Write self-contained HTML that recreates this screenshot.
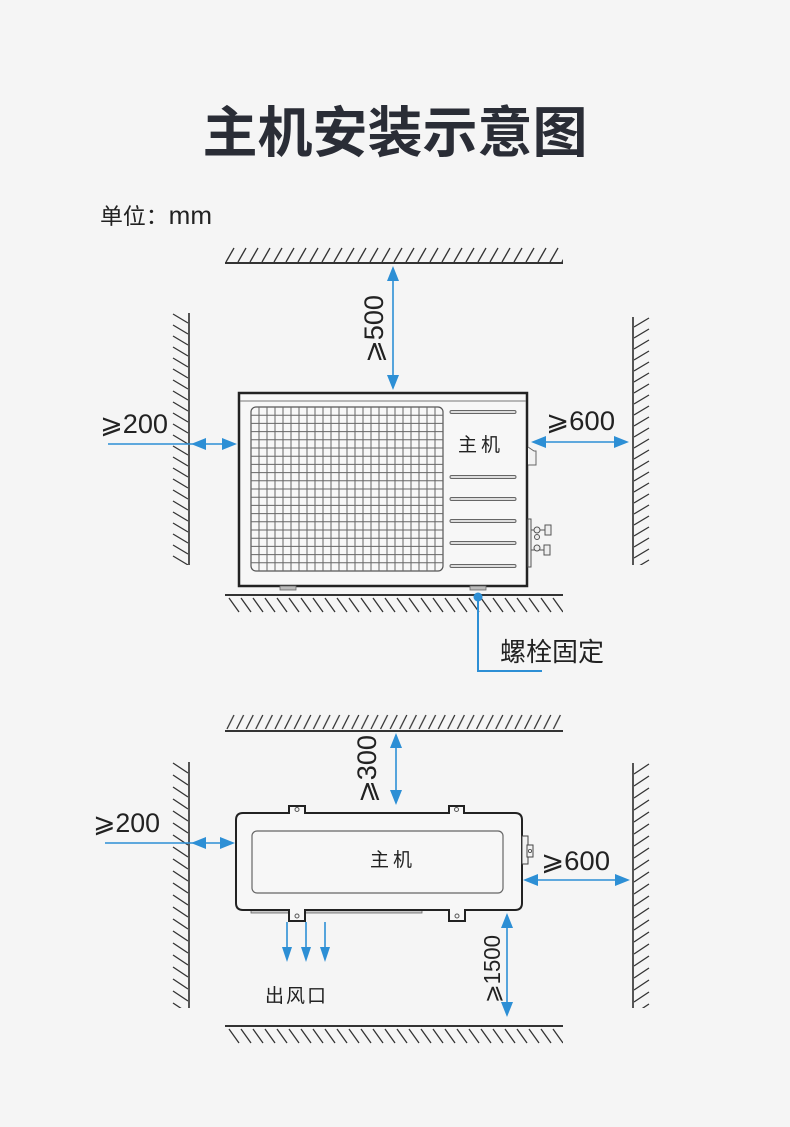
<!DOCTYPE html>
<html><head><meta charset="utf-8">
<style>
html,body{margin:0;padding:0;background:#f5f5f5;}
svg{display:block;}
.t{font-family:"Liberation Sans","DejaVu Sans","Noto Sans CJK SC",sans-serif;fill:#222;}
.c{font-family:"Noto Sans CJK SC","WenQuanYi Zen Hei",sans-serif;fill:#222;}
</style></head>
<body>
<svg width="790" height="1127" viewBox="0 0 790 1127" xmlns="http://www.w3.org/2000/svg">
<defs>
  <pattern id="hTop" patternUnits="userSpaceOnUse" x="225" y="247" width="12" height="16">
    <line x1="1" y1="15" x2="9" y2="1" stroke="#333" stroke-width="1.3"/>
  </pattern>
  <pattern id="hTop2" patternUnits="userSpaceOnUse" x="226" y="714" width="9.6" height="16">
    <line x1="1" y1="15" x2="8" y2="1" stroke="#333" stroke-width="1.3"/>
  </pattern>
  <pattern id="hBot" patternUnits="userSpaceOnUse" x="228" y="597" width="12" height="16">
    <line x1="1" y1="1" x2="11" y2="15" stroke="#333" stroke-width="1.3"/>
  </pattern>
  <pattern id="hBot2" patternUnits="userSpaceOnUse" x="228" y="1028" width="12" height="16">
    <line x1="1" y1="1" x2="11" y2="15" stroke="#333" stroke-width="1.3"/>
  </pattern>
  <pattern id="hLeft" patternUnits="userSpaceOnUse" x="172" y="313" width="17" height="11">
    <line x1="1" y1="1" x2="16" y2="10" stroke="#333" stroke-width="1.3"/>
  </pattern>
  <pattern id="hLeft2" patternUnits="userSpaceOnUse" x="172" y="762" width="17" height="12">
    <line x1="1" y1="1" x2="16" y2="11" stroke="#333" stroke-width="1.3"/>
  </pattern>
  <pattern id="hRight" patternUnits="userSpaceOnUse" x="634" y="317" width="17" height="11">
    <line x1="0" y1="10" x2="15" y2="1" stroke="#333" stroke-width="1.3"/>
  </pattern>
  <pattern id="hRight2" patternUnits="userSpaceOnUse" x="634" y="763" width="17" height="12">
    <line x1="0" y1="11" x2="15" y2="1" stroke="#333" stroke-width="1.3"/>
  </pattern>
</defs>

<!-- Title -->
<text x="395" y="152" text-anchor="middle" class="c" style="font-size:55px;font-weight:bold;fill:#2a2d36;">主机安装示意图</text>
<text x="100" y="224" class="c" style="font-size:22px;" textLength="112" lengthAdjust="spacingAndGlyphs">单位：<tspan style="font-family:'Liberation Sans',sans-serif;font-size:25px;">mm</tspan></text>

<!-- ============ TOP DIAGRAM ============ -->
<rect x="225" y="247" width="338" height="15" fill="url(#hTop)"/>
<line x1="225" y1="263" x2="563" y2="263" stroke="#333" stroke-width="2"/>
<rect x="172" y="313" width="17" height="252" fill="url(#hLeft)"/>
<line x1="189" y1="313" x2="189" y2="565" stroke="#555" stroke-width="2"/>
<rect x="634" y="317" width="17" height="248" fill="url(#hRight)"/>
<line x1="633" y1="317" x2="633" y2="565" stroke="#555" stroke-width="2"/>
<rect x="228" y="597" width="335" height="16" fill="url(#hBot)"/>
<line x1="225" y1="595" x2="563" y2="595" stroke="#333" stroke-width="2"/>

<!-- unit -->
<rect x="239" y="393" width="288" height="193" fill="#f7f7f7" stroke="#222" stroke-width="2.5"/>
<line x1="240" y1="401" x2="526" y2="401" stroke="#777" stroke-width="1"/>
<rect x="251" y="407" width="192" height="164" rx="5" fill="none" stroke="#555" stroke-width="1.2"/>
<path d="M259 407V571M267 407V571M275 407V571M283 407V571M291 407V571M299 407V571M307 407V571M315 407V571M323 407V571M331 407V571M339 407V571M347 407V571M355 407V571M363 407V571M371 407V571M379 407V571M387 407V571M395 407V571M403 407V571M411 407V571M419 407V571M427 407V571M435 407V571
M251 415.2H443M251 423.4H443M251 431.6H443M251 439.8H443M251 448H443M251 456.2H443M251 464.4H443M251 472.6H443M251 480.8H443M251 489H443M251 497.2H443M251 505.4H443M251 513.6H443M251 521.8H443M251 530H443M251 538.2H443M251 546.4H443M251 554.6H443M251 562.8H443" stroke="#666" stroke-width="1" fill="none"/>
<g fill="#ddd" stroke="#666" stroke-width="1">
<rect x="450" y="410.5" width="66" height="3" rx="1.5"/>
<rect x="450" y="475.5" width="66" height="3" rx="1.5"/>
<rect x="450" y="497.5" width="66" height="3" rx="1.5"/>
<rect x="450" y="519.5" width="66" height="3" rx="1.5"/>
<rect x="450" y="541.5" width="66" height="3" rx="1.5"/>
<rect x="450" y="564.5" width="66" height="3" rx="1.5"/>
</g>
<text x="481" y="451" text-anchor="middle" class="c" style="font-size:19px;letter-spacing:4px;">主机</text>
<path d="M528 447 L534 451 L536 451 L536 465 L528 465" fill="#f2f2f2" stroke="#666" stroke-width="1"/>
<g stroke="#555" stroke-width="1" fill="#eee">
<rect x="528" y="519" width="3" height="48"/>
<line x1="531" y1="530" x2="546" y2="530"/>
<circle cx="537" cy="530" r="3"/>
<circle cx="537" cy="537" r="2.5"/>
<rect x="545" y="525" width="6" height="10"/>
<line x1="531" y1="550" x2="546" y2="550"/>
<circle cx="537" cy="548" r="3"/>
<rect x="544" y="545" width="6" height="10"/>
</g>
<rect x="280" y="586" width="16" height="4" fill="#bbb" stroke="#666" stroke-width="0.8"/>
<rect x="470" y="586" width="16" height="4" fill="#bbb" stroke="#666" stroke-width="0.8"/>

<g stroke="#2d8fd5" stroke-width="1.6" fill="none">
<line x1="393" y1="270" x2="393" y2="386"/>
<line x1="108" y1="444" x2="233" y2="444"/>
<line x1="535" y1="442" x2="625" y2="442"/>
<path d="M478 597 V671 H542" stroke-width="2"/>
</g>
<g fill="#2d8fd5">
<polygon points="393,266 387,281 399,281"/>
<polygon points="393,390 387,375 399,375"/>
<polygon points="191,444 206,438 206,450"/>
<polygon points="237,444 222,438 222,450"/>
<polygon points="531,442 546,436 546,448"/>
<polygon points="629,442 614,436 614,448"/>
<circle cx="478" cy="597" r="4.5"/>
</g>

<text x="100" y="433" class="t" style="font-size:27px;" textLength="68" lengthAdjust="spacingAndGlyphs">⩾200</text>
<text x="546" y="430" class="t" style="font-size:27px;" textLength="69" lengthAdjust="spacingAndGlyphs">⩾600</text>
<text transform="translate(383,329) rotate(-90)" text-anchor="middle" class="t" style="font-size:27px;" textLength="68" lengthAdjust="spacingAndGlyphs">⩾500</text>
<text x="500" y="661" class="c" style="font-size:26px;">螺栓固定</text>

<!-- ============ BOTTOM DIAGRAM ============ -->
<rect x="226" y="714" width="336" height="16" fill="url(#hTop2)"/>
<line x1="225" y1="731" x2="563" y2="731" stroke="#333" stroke-width="2"/>
<rect x="172" y="762" width="17" height="246" fill="url(#hLeft2)"/>
<line x1="189" y1="762" x2="189" y2="1008" stroke="#555" stroke-width="2"/>
<rect x="634" y="763" width="17" height="245" fill="url(#hRight2)"/>
<line x1="633" y1="763" x2="633" y2="1008" stroke="#555" stroke-width="2"/>
<rect x="228" y="1028" width="335" height="16" fill="url(#hBot2)"/>
<line x1="225" y1="1026" x2="563" y2="1026" stroke="#333" stroke-width="2"/>

<rect x="251" y="909" width="171" height="4" fill="#c8c8c8" stroke="#666" stroke-width="0.8"/>
<path d="M243 813 H289 V806 H305 V813 H449 V806 H464 V813 H515 Q522 813 522 820 V903 Q522 910 515 910 H465 V921 H449 V910 H305 V921 H289 V910 H243 Q236 910 236 903 V820 Q236 813 243 813 Z" fill="#f7f7f7" stroke="#222" stroke-width="2"/>
<g fill="none" stroke="#555" stroke-width="1">
<circle cx="297" cy="809.5" r="2"/>
<circle cx="456.5" cy="809.5" r="2"/>
<circle cx="297" cy="916" r="2"/>
<circle cx="457" cy="916" r="2"/>
</g>
<rect x="252" y="831" width="251" height="62" rx="5" fill="none" stroke="#666" stroke-width="1.2"/>
<rect x="522" y="836" width="6" height="28" fill="#f2f2f2" stroke="#444" stroke-width="1"/>
<rect x="527" y="845" width="6" height="12" fill="#f2f2f2" stroke="#444" stroke-width="1"/>
<circle cx="530" cy="851" r="1.6" fill="none" stroke="#444" stroke-width="0.8"/>
<text x="393" y="866" text-anchor="middle" class="c" style="font-size:19px;letter-spacing:4px;">主机</text>

<g stroke="#2d8fd5" stroke-width="1.6" fill="none">
<line x1="396" y1="737" x2="396" y2="801"/>
<line x1="105" y1="843" x2="230" y2="843"/>
<line x1="526" y1="880" x2="626" y2="880"/>
<line x1="507" y1="917" x2="507" y2="1013"/>
<line x1="287" y1="922" x2="287" y2="950"/>
<line x1="306" y1="922" x2="306" y2="950"/>
<line x1="325" y1="922" x2="325" y2="950"/>
</g>
<g fill="#2d8fd5">
<polygon points="396,733 390,748 402,748"/>
<polygon points="396,805 390,790 402,790"/>
<polygon points="191,843 206,837 206,849"/>
<polygon points="235,843 220,837 220,849"/>
<polygon points="523,880 538,874 538,886"/>
<polygon points="630,880 615,874 615,886"/>
<polygon points="507,913 501,928 513,928"/>
<polygon points="507,1017 501,1002 513,1002"/>
<polygon points="287,962 282,947 292,947"/>
<polygon points="306,962 301,947 311,947"/>
<polygon points="325,962 320,947 330,947"/>
</g>

<text x="93" y="832" class="t" style="font-size:27px;" textLength="67" lengthAdjust="spacingAndGlyphs">⩾200</text>
<text x="541" y="870" class="t" style="font-size:27px;" textLength="69" lengthAdjust="spacingAndGlyphs">⩾600</text>
<text transform="translate(376,769) rotate(-90)" text-anchor="middle" class="t" style="font-size:27px;" textLength="68" lengthAdjust="spacingAndGlyphs">⩾300</text>
<text transform="translate(500,969) rotate(-90)" text-anchor="middle" class="t" style="font-size:23px;" textLength="68" lengthAdjust="spacingAndGlyphs">⩾1500</text>
<text x="265" y="1002" class="c" style="font-size:19px;letter-spacing:2px;">出风口</text>
</svg>
</body></html>
